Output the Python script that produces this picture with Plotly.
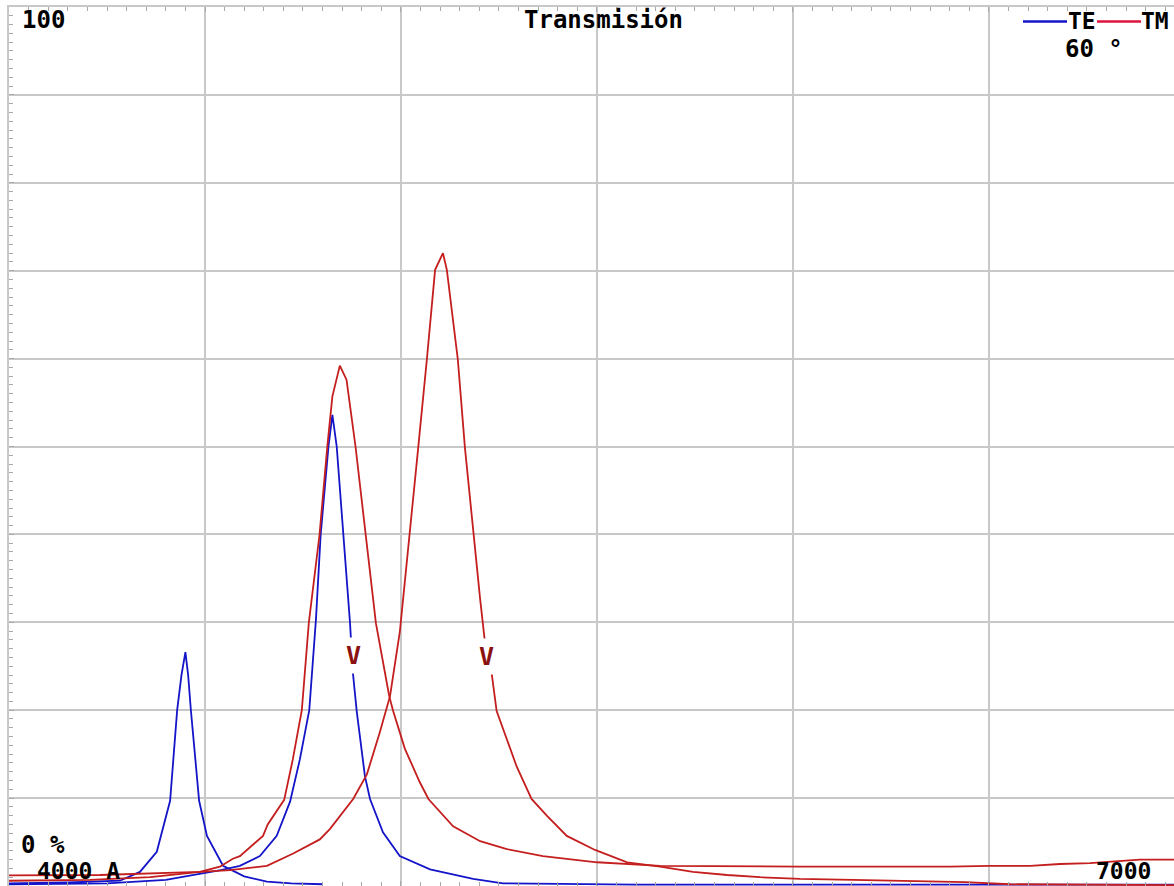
import plotly.graph_objects as go

# ---------------- data ----------------
te1_wl = [4000, 4150, 4283, 4334, 4377, 4411, 4429, 4440, 4450, 4457, 4464, 4485, 4505, 4546, 4600, 4658, 4720, 4800]
te1_t = [0.3, 0.4, 0.6, 1.6, 3.9, 9.7, 20.0, 24.0, 26.6, 24.0, 20.0, 9.7, 5.7, 2.3, 1.1, 0.5, 0.3, 0.2]

te2_wl = [4000, 4250, 4400, 4487, 4540, 4589, 4640, 4683, 4717, 4742, 4766, 4783, 4795, 4815, 4825, 4836, 4853,
          4870, 4877, 4887, 4908, 4921, 4954, 4997, 5074, 5184, 5260, 5600, 6500, 6972]
te2_t = [0.2, 0.3, 0.7, 1.4, 1.8, 2.3, 3.4, 5.7, 9.6, 14.4, 20.0, 30.3, 39.9, 50.0, 53.6, 50.0, 39.9,
         29.9, 24.4, 19.9, 12.5, 9.9, 6.1, 3.4, 1.9, 0.8, 0.3, 0.15, 0.15, 0.15]

tm1_wl = [4000, 4207, 4360, 4487, 4538, 4571, 4589, 4648, 4660, 4702, 4724, 4747, 4765, 4792, 4812,
          4825, 4844, 4861, 4884, 4910, 4936, 4970, 4980, 5010, 5048, 5070, 5133, 5202, 5270, 5362,
          5500, 5661, 6018, 6400, 6503, 6605, 6681, 6758, 6821, 6885, 6972]
tm1_t = [0.6, 0.7, 1.0, 1.6, 2.2, 3.1, 3.4, 5.7, 7.0, 9.8, 14.4, 20.0, 30.0, 39.9, 50.0,
         55.7, 59.2, 57.6, 50.0, 39.9, 29.9, 21.6, 19.9, 15.6, 11.8, 9.9, 6.8, 5.1, 4.2, 3.4,
         2.7, 2.3, 2.2, 2.2, 2.3, 2.3, 2.5, 2.6, 2.8, 3.0, 3.0]

tm2_wl = [4000, 4232, 4487, 4564, 4658, 4699, 4725, 4793, 4819, 4878, 4913, 4946, 4972, 4997, 5005,
          5044, 5066, 5087, 5107, 5117, 5145, 5163, 5202, 5214, 5231, 5244, 5270, 5295, 5333, 5372,
          5423, 5495, 5577, 5661, 5745, 5832, 5916, 6018, 6153, 6439, 6554, 6972]
tm2_t = [1.2, 1.25, 1.6, 1.8, 2.3, 3.2, 3.7, 5.3, 6.5, 9.9, 12.7, 17.5, 21.6, 28.9, 32.6,
         49.9, 59.9, 70.1, 72.0, 70.1, 59.9, 49.9, 32.6, 27.8, 24.3, 19.9, 16.7, 13.6, 9.9, 8.0,
         5.7, 4.1, 2.7, 2.2, 1.6, 1.25, 1.0, 0.8, 0.7, 0.45, 0.2, 0.1]

marker_wl = [4879, 5218]
marker_t = [26.2, 26.1]

x_range = [4000, 6972]
y_range = [0, 100]

title_text = "Transmisión"
angle_text = "60 °"

# ---------------- styling ----------------
BLUE = "#1414c8"
RED = "#c41e1e"
LEG_RED = "#dc143c"
GRID = "#c8c8c8"
FONT = "DejaVu Sans Mono"

fig = go.Figure()
for wl, t, c in [(te1_wl, te1_t, BLUE), (te2_wl, te2_t, BLUE), (tm1_wl, tm1_t, RED), (tm2_wl, tm2_t, RED)]:
    fig.add_trace(go.Scatter(x=wl, y=t, mode="lines", line=dict(color=c, width=1.8),
                             showlegend=False, hoverinfo="skip"))

W, H = 1174, 886
L, R, T, B = 9, 0, 7, 0

fig.update_layout(
    width=W, height=H,
    margin=dict(l=L, r=R, t=T, b=B, pad=0),
    paper_bgcolor="white", plot_bgcolor="white",
    showlegend=False,
    font=dict(family=FONT, size=22, color="black"),
)
fig.update_xaxes(
    range=x_range, dtick=500, tick0=4000,
    showgrid=True, gridcolor=GRID, gridwidth=2,
    showticklabels=False, zeroline=False,
    showline=True, linecolor=GRID, linewidth=2, mirror="allticks",
    ticks="inside", ticklen=5, tickcolor="#a8a8a8",
    minor=dict(dtick=50, ticks="inside", ticklen=4, tickcolor="#a8a8a8", showgrid=False),
)
fig.update_yaxes(
    range=y_range, dtick=10, tick0=0,
    showgrid=True, gridcolor=GRID, gridwidth=2,
    showticklabels=False, zeroline=False,
    showline=True, linecolor=GRID, linewidth=2, mirror=False,
    ticks="inside", ticklen=5, tickcolor="#a8a8a8",
    minor=dict(dtick=1, ticks="inside", ticklen=4, tickcolor="#a8a8a8", showgrid=False),
)

pw, ph = W - L - R, H - T - B
def px(x):
    return (x - L) / pw
def py(y):
    return (H - B - y) / ph

def label(text, x, y, anchor="left", size=24, color="black"):
    fig.add_annotation(text="<b>" + text + "</b>", x=px(x), y=py(y), xref="paper", yref="paper",
                       xanchor=anchor, yanchor="middle", showarrow=False, borderpad=0,
                       font=dict(family=FONT, size=size, color=color))

label("100", 21, 20)
label(title_text, 603, 20, anchor="center")
label("TE", 1067, 21, size=23)
label("TM", 1140, 21, size=23)
label(angle_text, 1064, 49)
label("0 %", 20, 845)
label("4000 A", 36, 871, size=23)
label("7000", 1095, 871, size=23)

# legend line samples
fig.add_shape(type="line", xref="paper", yref="paper", x0=px(1023), x1=px(1067), y0=py(21.5), y1=py(21.5),
              line=dict(color=BLUE, width=2.5))
fig.add_shape(type="line", xref="paper", yref="paper", x0=px(1097), x1=px(1141), y0=py(21.5), y1=py(21.5),
              line=dict(color=LEG_RED, width=2.5))

# V markers on the curves
for mx, my in zip(marker_wl, marker_t):
    fig.add_annotation(text="<b>V</b>", x=mx, y=my, xref="x", yref="y", showarrow=False,
                       font=dict(family=FONT, size=25, color="#8b1010"),
                       bgcolor="white", borderpad=3)

fig.write_html("out.html", config={"displayModeBar": False},
               post_script="document.body.style.margin='0px';document.body.style.overflow='hidden';")
